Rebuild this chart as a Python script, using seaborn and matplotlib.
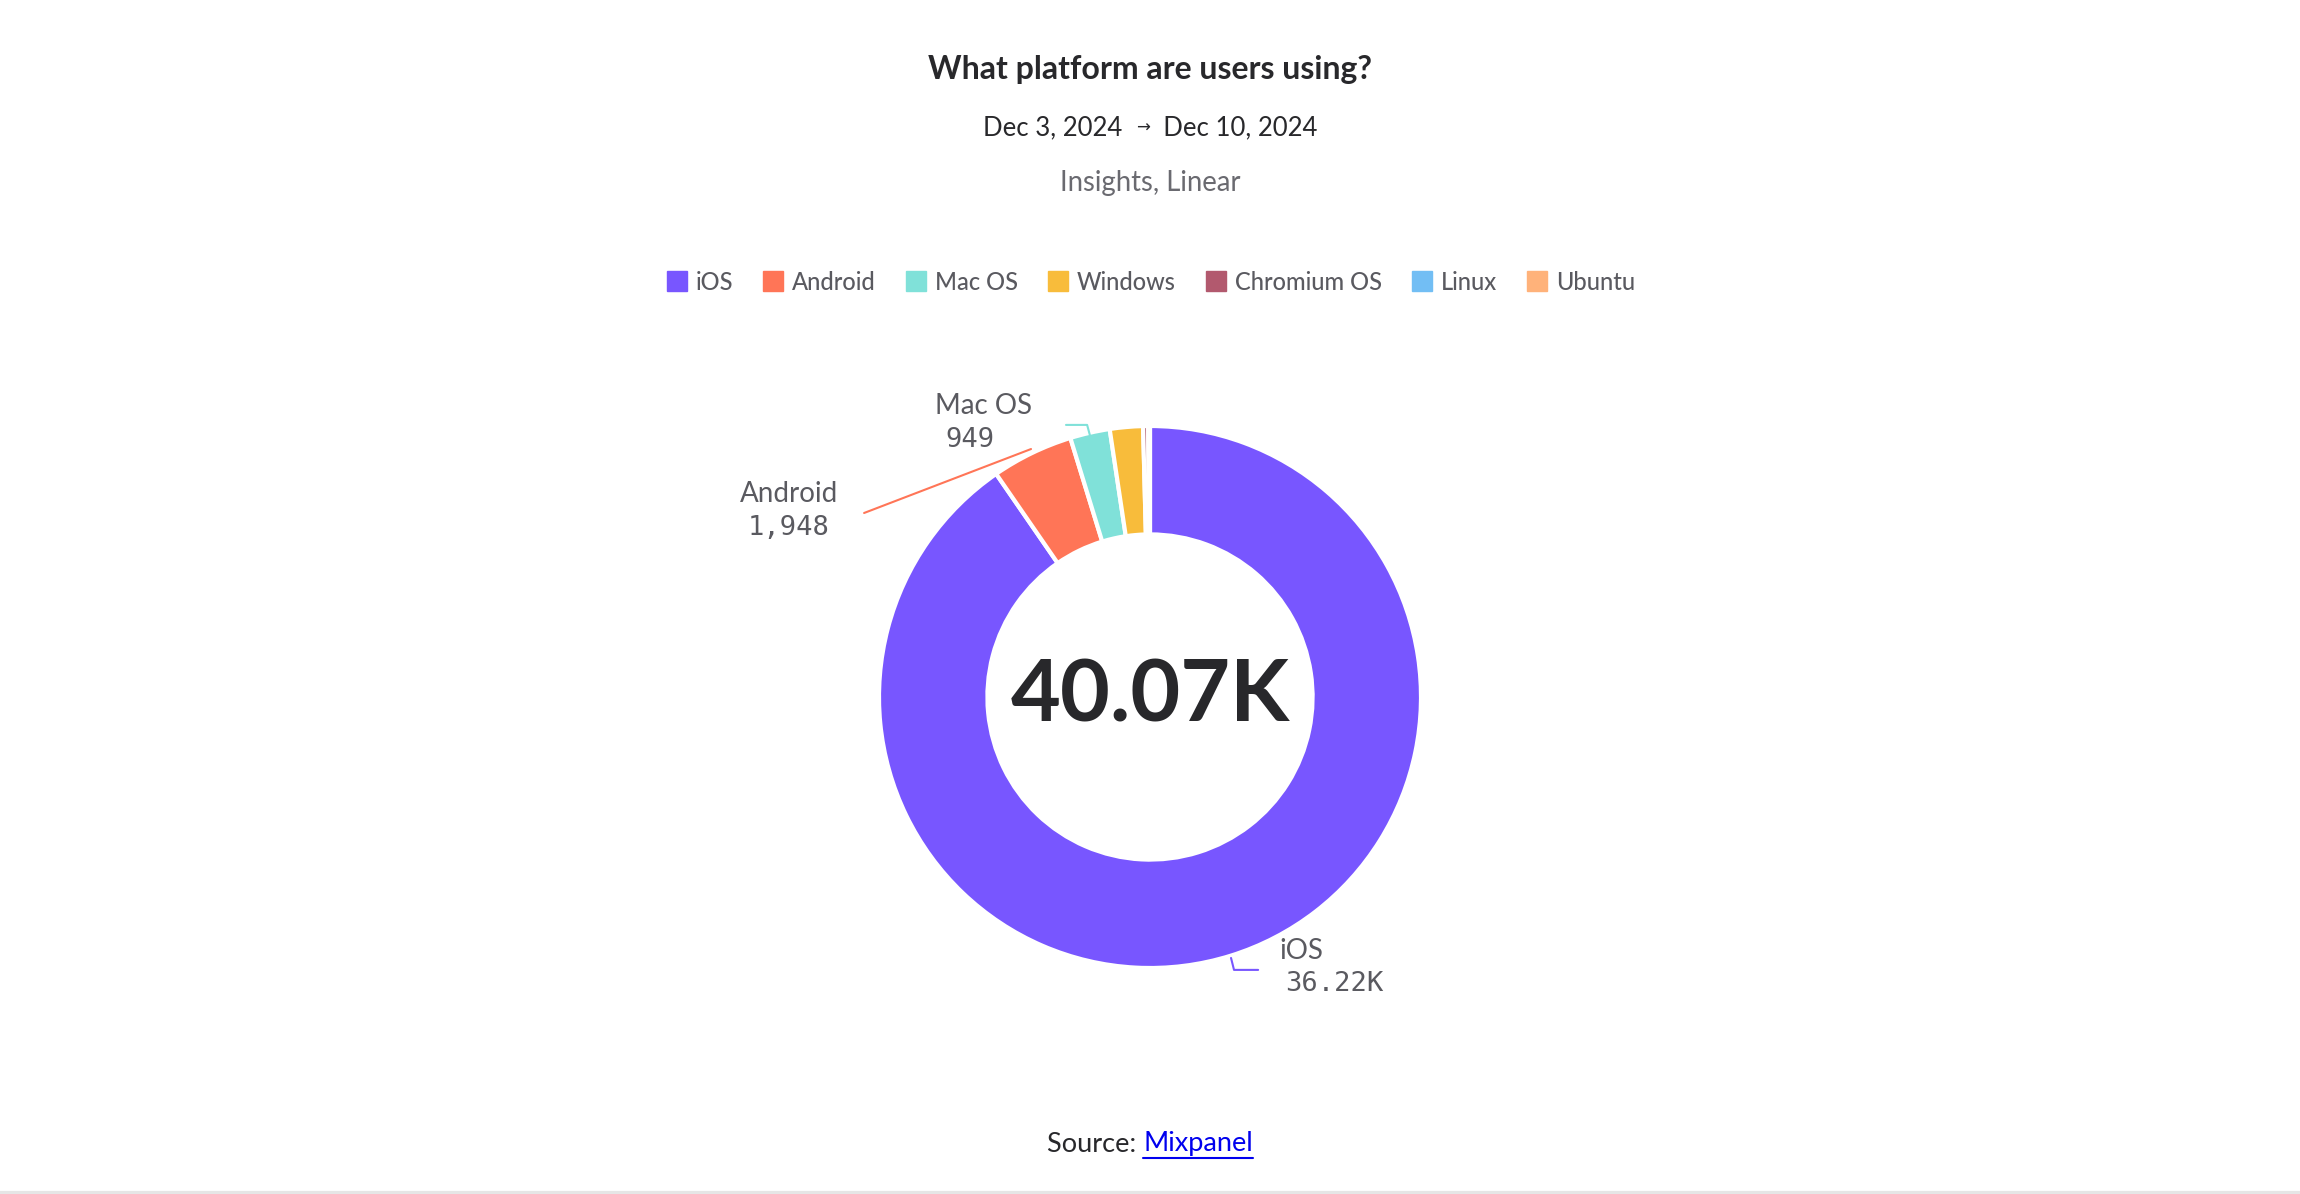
"""
Platform share donut (Mixpanel style).
"""

import matplotlib
matplotlib.use('Agg')
import matplotlib.pyplot as plt
from matplotlib.lines import Line2D
import seaborn as sns

# data
platforms = ['iOS', 'Android', 'Mac OS', 'Windows', 'Chromium OS', 'Linux', 'Ubuntu']
users = [36220, 1948, 949, 790, 120, 30, 13]
colors = ['#7856FF', '#FF7557', '#80E1D9', '#F8BC3B', '#B2596E', '#72BEF4', '#FFB27A']
total_label = '40.07K'
value_labels = {'iOS': '36.22K', 'Android': '1,948', 'Mac OS': '949'}
date_from, date_to = 'Dec 3, 2024', 'Dec 10, 2024'

sns.set_theme(style='white')
plt.rcParams['font.family'] = ['Lato', 'DejaVu Sans']

W, H = 2300, 1194
fig = plt.figure(figsize=(W / 100, H / 100), dpi=100)
fig.patch.set_facecolor('white')

# donut axes: centre at (1150, 697) px, outer radius 271 px
cx, cy, r_px, half = 1150, H - 697, 271, 420
ax = fig.add_axes([(cx - half) / W, (cy - half) / H, 2 * half / W, 2 * half / H])
ax.pie(users, colors=sns.color_palette(colors), startangle=90, counterclock=False,
       radius=1.0,
       wedgeprops=dict(width=0.4, edgecolor='white', linewidth=3, joinstyle='round'))
lim = half / r_px
ax.set_xlim(-lim, lim)
ax.set_ylim(-lim, lim)
ax.set_aspect('equal')
ax.axis('off')

ax.text(0, 0, total_label, ha='center', va='center', fontsize=62,
        fontweight='bold', color='#28282b')

name_kw = dict(fontsize=20, color='#5a5a60')
num_kw = dict(fontsize=19.5, color='#5a5a60', family=['DejaVu Sans Mono'])

# Android
ax.plot([-0.439, -1.055], [0.915, 0.679], color=colors[1], lw=1.5)
ax.text(-1.332, 0.749, 'Android', ha='center', va='center', **name_kw)
ax.text(-1.332, 0.624, value_labels['Android'], ha='center', va='center', **num_kw)

# Mac OS
ax.plot([-0.221, -0.232, -0.31], [0.963, 1.004, 1.004], color=colors[2], lw=1.5)
ax.text(-0.613, 1.074, 'Mac OS', ha='center', va='center', **name_kw)
ax.text(-0.664, 0.948, value_labels['Mac OS'], ha='center', va='center', **num_kw)

# iOS
ax.plot([0.299, 0.310, 0.399], [-0.963, -1.007, -1.007], color=colors[0], lw=1.5)
ax.text(0.476, -0.937, 'iOS', ha='left', va='center', **name_kw)
ax.text(0.498, -1.059, value_labels['iOS'], ha='left', va='center', **num_kw)

# header
fig.text(0.5, 1 - 69 / H, 'What platform are users using?', ha='center', va='center',
         fontsize=23, fontweight='bold', color='#28282b')
fig.text(0.5, 1 - 183 / H, 'Insights, Linear', ha='center', va='center',
         fontsize=19.8, color='#6a6a70')

# legend
handles = [Line2D([0], [0], marker='s', linestyle='', markersize=14,
                  markerfacecolor=c, markeredgecolor=c) for c in colors]
fig.legend(handles, platforms, loc='center', bbox_to_anchor=(0.5, 1 - 282 / H),
           ncol=len(platforms), frameon=False, handletextpad=0.3, columnspacing=1.2,
           handlelength=1.0, prop=dict(size=17, weight='medium'), labelcolor='#5a5a60')


def centered_row(parts, y):
    """Place a row of (text, kwargs) pieces centred on the figure."""
    texts = [fig.text(0, 0, s, va='center', **kw) for s, kw in parts]
    fig.canvas.draw()
    rend = fig.canvas.get_renderer()
    widths = [t.get_window_extent(rend).width for t in texts]
    x = (W - sum(widths)) / 2
    spans = []
    for t, w in zip(texts, widths):
        t.set_position((x / W, y))
        spans.append((x, x + w))
        x += w
    return spans


# date range with small arrow
centered_row([(date_from + '  ', dict(fontsize=18.5, color='#28282b')),
              ('→', dict(fontsize=12, color='#28282b', family=['DejaVu Sans'])),
              ('  ' + date_to, dict(fontsize=18.5, color='#28282b'))], 1 - 128 / H)

# source line
ys = 1 - 1144 / H
spans = centered_row([('Source: ', dict(fontsize=19.5, color='#28282b')),
                      ('Mixpanel', dict(fontsize=19.5, color='#0000ee'))], ys)
x1, x2 = spans[1]
fig.add_artist(Line2D([x1 / W, x2 / W], [ys - 14 / H, ys - 14 / H],
                      color='#0000ee', lw=1.5, transform=fig.transFigure))

# bottom divider
fig.add_artist(Line2D([0, 1], [1.5 / H, 1.5 / H], color='#e6e6e6', lw=3,
                      transform=fig.transFigure))

fig.savefig('out.png', dpi=100, facecolor='white')
